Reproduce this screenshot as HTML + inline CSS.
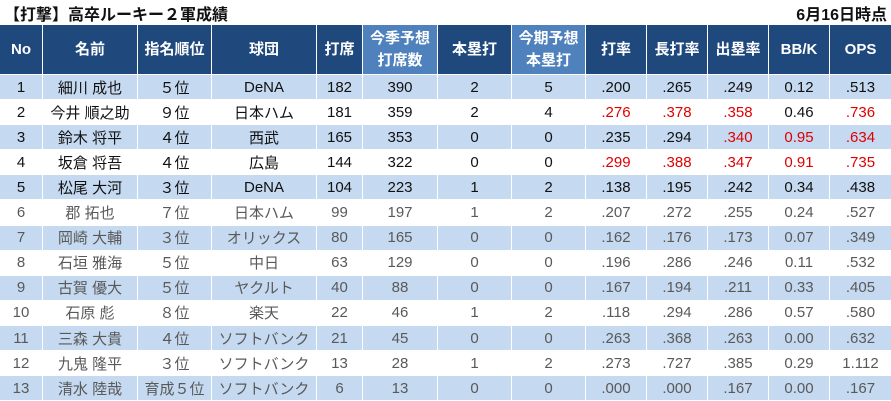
<!DOCTYPE html>
<html><head><meta charset="utf-8"><style>
body{margin:0;width:891px;height:401px;background:#fff;font-family:"Liberation Sans","Noto Sans CJK JP",sans-serif;overflow:hidden;position:relative}
.t{position:absolute;font-weight:bold;font-size:16px;top:1px;color:#111}
.c{position:absolute;display:flex;align-items:center;justify-content:center;text-align:center;box-sizing:border-box;font-size:15px}
.h{background:#1f497d;color:#fff;font-weight:bold;font-size:15px;line-height:22px}
.hl{background:#4f81bd}
</style></head><body>
<div class="t" style="left:4px">【打撃】高卒ルーキー２軍成績</div>
<div class="t" style="right:4px">6月16日時点</div>
<div id="tbl"></div>
<script>
const cols=[[0,42],[43,137],[138,211],[212,316],[317,362],[363,437],[438,511],[512,585],[586,646],[647,707],[708,768],[769,829],[830,891]];
const headers=["No","名前","指名順位","球団","打席","今季予想<br>打席数","本塁打","今期予想<br>本塁打","打率","長打率","出塁率","BB/K","OPS"];
const rows=[
["1","細川 成也","５位","DeNA","182","390","2","5",".200",".265",".249","0.12",".513"],
["2","今井 順之助","９位","日本ハム","181","359","2","4",".276",".378",".358","0.46",".736"],
["3","鈴木 将平","４位","西武","165","353","0","0",".235",".294",".340","0.95",".634"],
["4","坂倉 将吾","４位","広島","144","322","0","0",".299",".388",".347","0.91",".735"],
["5","松尾 大河","３位","DeNA","104","223","1","2",".138",".195",".242","0.34",".438"],
["6","郡 拓也","７位","日本ハム","99","197","1","2",".207",".272",".255","0.24",".527"],
["7","岡崎 大輔","３位","オリックス","80","165","0","0",".162",".176",".173","0.07",".349"],
["8","石垣 雅海","５位","中日","63","129","0","0",".196",".286",".246","0.11",".532"],
["9","古賀 優大","５位","ヤクルト","40","88","0","0",".167",".194",".211","0.33",".405"],
["10","石原 彪","８位","楽天","22","46","1","2",".118",".294",".286","0.57",".580"],
["11","三森 大貴","４位","ソフトバンク","21","45","0","0",".263",".368",".263","0.00",".632"],
["12","九鬼 隆平","３位","ソフトバンク","13","28","1","2",".273",".727",".385","0.29","1.112"],
["13","清水 陸哉","育成５位","ソフトバンク","6","13","0","0",".000",".000",".167","0.00",".167"]];
const red={1:[8,9,10,12],2:[10,11,12],3:[8,9,10,11,12]};
const tbl=document.getElementById('tbl');
headers.forEach((h,i)=>{
 const d=document.createElement('div');
 d.className='c h'+((i==5||i==7)?' hl':'');
 
 
 d.style.cssText=`left:${cols[i][0]}px;width:${cols[i][1]-cols[i][0]}px;top:25px;height:49px`;
 d.innerHTML=h;tbl.appendChild(d);
});
rows.forEach((r,ri)=>{
 const top=75+ri*25.1;
 r.forEach((v,ci)=>{
  const d=document.createElement('div');
  d.className='c';
  
  
  const bg=ri%2==0?'#c5d9f1':'#fff';
  let col=ri<5?'#111':'#595959';
  if(red[ri]&&red[ri].includes(ci))col='#e00000';
  d.style.cssText=`left:${cols[ci][0]}px;width:${cols[ci][1]-cols[ci][0]}px;top:${top}px;height:24.1px;background:${bg};color:${col}`;
  d.textContent=v;tbl.appendChild(d);
 });
});
</script>
</body></html>
